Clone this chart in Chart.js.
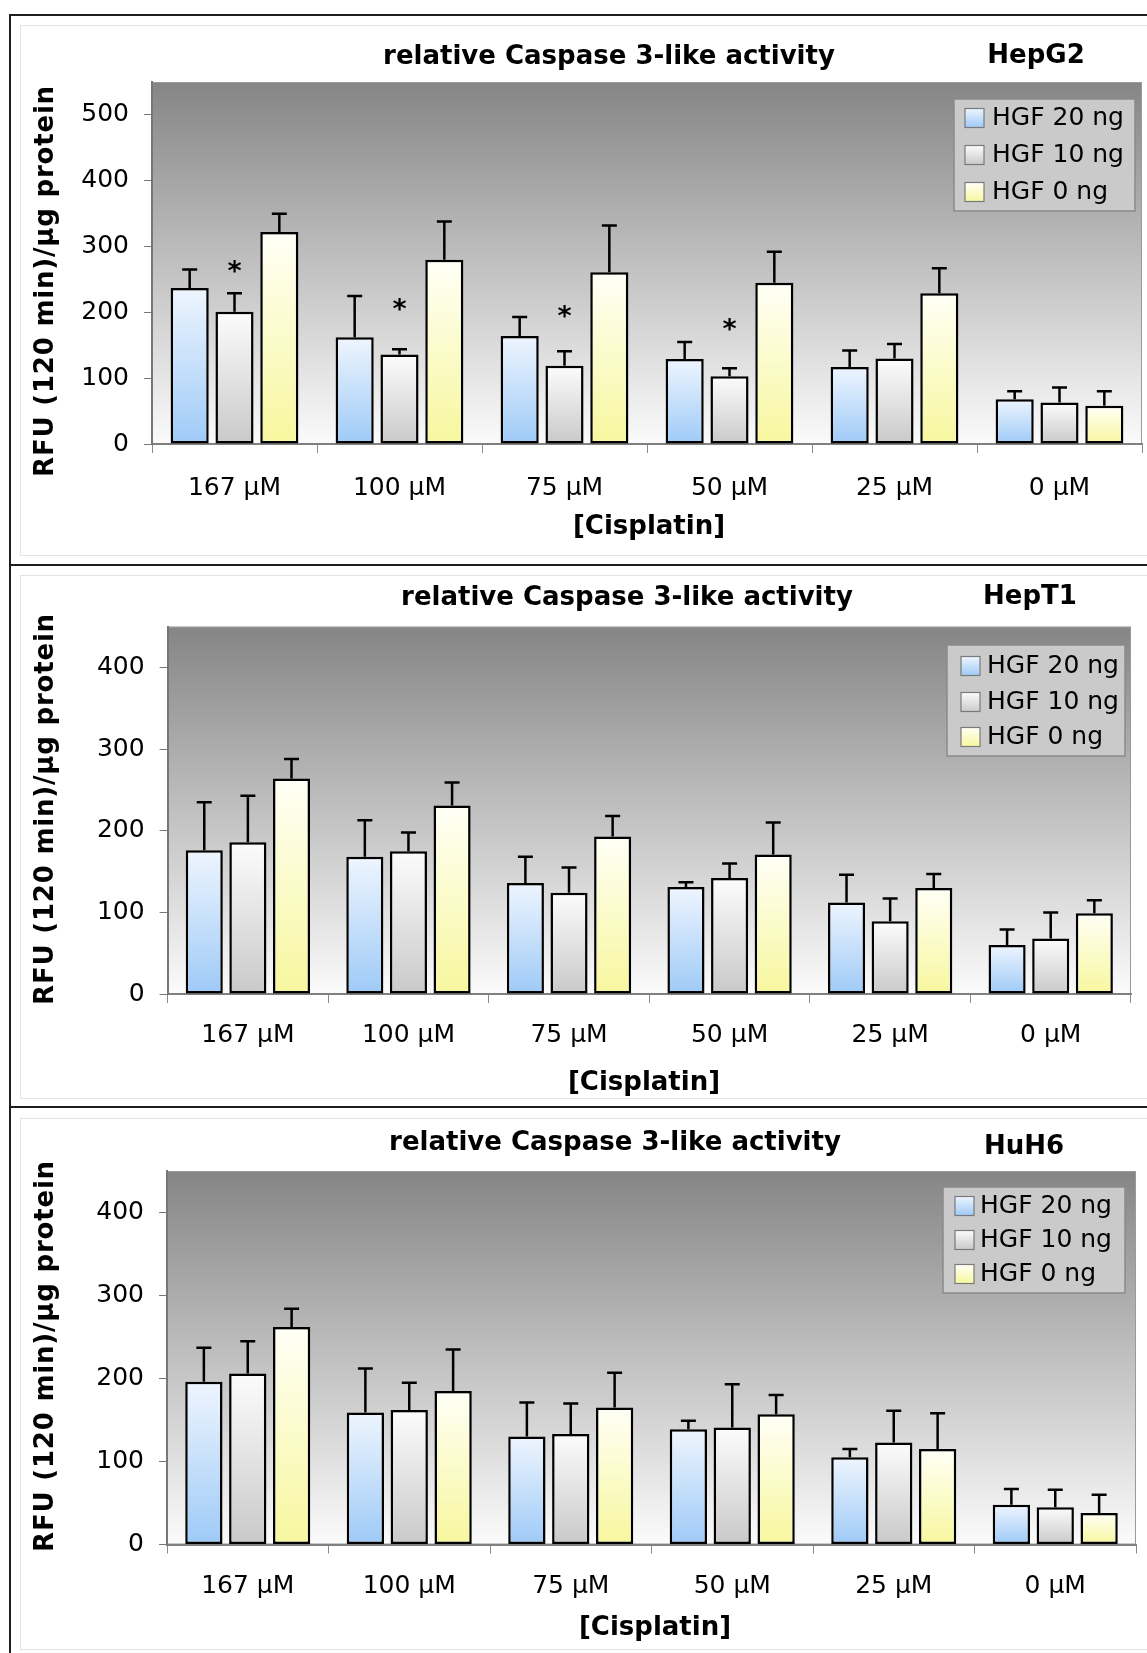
<!DOCTYPE html>
<html>
<head>
<meta charset="utf-8">
<script src="https://cdn.jsdelivr.net/npm/chart.js@4.4.1/dist/chart.umd.min.js"></script>
<style>
body { margin: 0; background: #fff; }
#page { position: relative; width: 1147px; height: 1653px; overflow: hidden; background: #fff; }
.rule { position: absolute; background: #1e1e1e; }
.frame { position: absolute; border: 1px solid #e4e4e4; box-sizing: border-box; }
canvas { position: absolute; left: 20px; }
</style>
</head>
<body>
<div id="page">
  <div class="rule" style="left:9px;top:14px;width:1138px;height:2px"></div>
  <div class="rule" style="left:9px;top:564px;width:1138px;height:2px"></div>
  <div class="rule" style="left:9px;top:1106px;width:1138px;height:2px"></div>
  <div class="rule" style="left:9px;top:14px;width:2px;height:1639px"></div>
  <div class="frame" style="left:20px;top:25px;width:1140px;height:531px"></div>
  <div class="frame" style="left:20px;top:575px;width:1140px;height:524px"></div>
  <div class="frame" style="left:20px;top:1118px;width:1140px;height:532px"></div>
  <canvas id="c1" width="1127" height="530" style="top:25px"></canvas>
  <canvas id="c2" width="1127" height="523" style="top:575px"></canvas>
  <canvas id="c3" width="1127" height="535" style="top:1118px"></canvas>
</div>
<script>
// data
const categories = ['167 µM', '100 µM', '75 µM', '50 µM', '25 µM', '0 µM'];
const seriesLabels = ['HGF 20 ng', 'HGF 10 ng', 'HGF 0 ng'];

const hepg2Hgf20 = [237, 162, 164, 129, 117, 68];
const hepg2Hgf20Err = [28, 63, 29, 26, 25, 12];
const hepg2Hgf10 = [201, 136, 119, 103, 130, 63];
const hepg2Hgf10Err = [28, 8, 22, 12, 22, 23];
const hepg2Hgf0 = [322, 280, 261, 245, 229, 58];
const hepg2Hgf0Err = [28, 58, 71, 47, 38, 22];
const hepg2Stars = [268, 210, 199, 179, null, null];
const hepg2Ticks = [0, 100, 200, 300, 400, 500];

const hept1Hgf20 = [176, 168, 136, 131, 112, 60];
const hept1Hgf20Err = [59, 45, 32, 6, 34, 19];
const hept1Hgf10 = [186, 175, 124, 142, 89, 68];
const hept1Hgf10Err = [57, 23, 31, 18, 28, 32];
const hept1Hgf0 = [264, 231, 193, 171, 130, 99];
const hept1Hgf0Err = [24, 28, 25, 39, 17, 16];
const hept1Ticks = [0, 100, 200, 300, 400];

const huh6Hgf20 = [196, 159, 130, 139, 105, 48];
const huh6Hgf20Err = [41, 53, 41, 10, 10, 19];
const huh6Hgf10 = [206, 162, 133, 141, 123, 45];
const huh6Hgf10Err = [39, 33, 37, 52, 38, 21];
const huh6Hgf0 = [262, 185, 165, 157, 115, 38];
const huh6Hgf0Err = [22, 50, 42, 23, 43, 22];
const huh6Ticks = [0, 100, 200, 300, 400];

const fills = [['#eef5fe', '#9ecaf7'], ['#fcfcfc', '#c9c9c9'], ['#fffff7', '#f7f79e']];
const FONT = '"DejaVu Sans", Verdana, sans-serif';

function barFill(pair) {
    return function (ctx) {
        const chart = ctx.chart;
        const y = chart.scales.y;
        if (ctx.type !== 'data' || !y) return pair[1];
        const top = y.getPixelForValue(ctx.raw);
        const base = y.getPixelForValue(0);
        if (!isFinite(top) || !isFinite(base) || top === base) return pair[1];
        const g = chart.ctx.createLinearGradient(0, top, 0, base);
        g.addColorStop(0, pair[0]);
        g.addColorStop(1, pair[1]);
        return g;
    };
}

function text(c, s, x, y, font, align) {
    c.font = font;
    c.textAlign = align || 'center';
    c.textBaseline = 'middle';
    c.fillStyle = '#000';
    c.fillText(s, x, y);
}

const panelDecor = {
    id: 'panelDecor',
    beforeDraw(chart) {
        const a = chart.chartArea, c = chart.ctx;
        const g = c.createLinearGradient(0, a.top, 0, a.bottom);
        g.addColorStop(0, '#858585');
        g.addColorStop(1, '#fbfbfb');
        c.save();
        c.fillStyle = g;
        c.fillRect(a.left, a.top, a.right - a.left, a.bottom - a.top);
        c.strokeStyle = '#9a9a9a';
        c.lineWidth = 1;
        c.strokeRect(a.left + 0.5, a.top + 0.5, a.right - a.left - 1, a.bottom - a.top - 1);
        c.restore();
    },
    afterDatasetsDraw(chart) {
        const c = chart.ctx, y = chart.scales.y;
        const p = chart.options.plugins.panelDecor;
        c.save();
        c.strokeStyle = '#000';
        c.lineWidth = 2.5;
        chart.data.datasets.forEach(function (ds, i) {
            chart.getDatasetMeta(i).data.forEach(function (bar, j) {
                const yTop = y.getPixelForValue(ds.data[j] + ds.errors[j]);
                c.beginPath();
                c.moveTo(bar.x, bar.y);
                c.lineTo(bar.x, yTop);
                c.moveTo(bar.x - 7.5, yTop);
                c.lineTo(bar.x + 7.5, yTop);
                c.stroke();
            });
        });
        if (p.stars) {
            chart.getDatasetMeta(1).data.forEach(function (bar, j) {
                if (p.stars[j] == null) return;
                text(c, '*', bar.x, y.getPixelForValue(p.stars[j]) + 5, 'bold 27px ' + FONT);
            });
        }
        c.restore();
    },
    afterDraw(chart) {
        const c = chart.ctx;
        const p = chart.options.plugins.panelDecor;
        const ox = 20, oy = p.top;
        c.save();
        text(c, 'relative Caspase 3-like activity', p.title[0] - ox, p.title[1] - oy, 'bold 26px ' + FONT);
        text(c, p.name, p.cell[0] - ox, p.cell[1] - oy, 'bold 26px ' + FONT);
        text(c, '[Cisplatin]', p.xTitle[0] - ox, p.xTitle[1] - oy, 'bold 26px ' + FONT);
        c.save();
        c.translate(p.yTitle[0] - ox, p.yTitle[1] - oy);
        c.rotate(-Math.PI / 2);
        c.letterSpacing = '0.8px';
        text(c, 'RFU (120 min)/µg protein', 0, 0, 'bold 26px ' + FONT);
        c.restore();

        // legend box
        const L = p.legend;
        c.fillStyle = '#cacaca';
        c.fillRect(L.x - ox, L.y - oy, L.w, L.h);
        c.strokeStyle = '#8a8a8a';
        c.lineWidth = 1.5;
        c.strokeRect(L.x - ox, L.y - oy, L.w, L.h);
        chart.data.datasets.forEach(function (ds, i) {
            const ry = L.rows[i] - oy;
            const sx = L.sx - ox;
            const g = c.createLinearGradient(0, ry - 9.5, 0, ry + 9.5);
            g.addColorStop(0, fills[i][0]);
            g.addColorStop(1, fills[i][1]);
            c.fillStyle = g;
            c.fillRect(sx, ry - 9.5, 19, 19);
            c.strokeStyle = '#7a7a7a';
            c.lineWidth = 1.2;
            c.strokeRect(sx, ry - 9.5, 19, 19);
            text(c, ds.label, L.tx - ox, ry, '25px ' + FONT, 'left');
        });
        c.restore();
    }
};

const panels = [
    {
        id: 'c1', top: 25, height: 530, name: 'HepG2', yMax: 550, ticks: hepg2Ticks,
        values: [hepg2Hgf20, hepg2Hgf10, hepg2Hgf0], errors: [hepg2Hgf20Err, hepg2Hgf10Err, hepg2Hgf0Err],
        stars: hepg2Stars,
        area: { left: 152, right: 1142, top: 82, bottom: 444 }, labelPad: 20,
        title: [609, 57], cell: [1036, 56], yTitle: [46, 281], xTitle: [649, 527],
        legend: { x: 954, y: 99, w: 181, h: 112, rows: [118, 155, 192], sx: 965, tx: 992 }
    },
    {
        id: 'c2', top: 575, height: 523, name: 'HepT1', yMax: 450, ticks: hept1Ticks,
        values: [hept1Hgf20, hept1Hgf10, hept1Hgf0], errors: [hept1Hgf20Err, hept1Hgf10Err, hept1Hgf0Err],
        stars: null,
        area: { left: 167.6, right: 1131, top: 626.7, bottom: 994 }, labelPad: 17,
        title: [627, 598], cell: [1030, 597], yTitle: [46, 809], xTitle: [644, 1083],
        legend: { x: 947, y: 645, w: 178, h: 111, rows: [666, 702, 737], sx: 961, tx: 987 }
    },
    {
        id: 'c3', top: 1118, height: 535, name: 'HuH6', yMax: 450, ticks: huh6Ticks,
        values: [huh6Hgf20, huh6Hgf10, huh6Hgf0], errors: [huh6Hgf20Err, huh6Hgf10Err, huh6Hgf0Err],
        stars: null,
        area: { left: 167, right: 1136, top: 1171, bottom: 1544.5 }, labelPad: 17.5,
        title: [615, 1143], cell: [1024, 1147], yTitle: [46, 1356], xTitle: [655, 1628],
        legend: { x: 943, y: 1187, w: 182, h: 106, rows: [1206, 1240, 1274], sx: 955, tx: 980 }
    }
];

panels.forEach(function (p) {
    const canvas = document.getElementById(p.id);
    const left = p.area.left - 20;
    const right = 1127 - (p.area.right - 20);
    const top = p.area.top - p.top;
    const xHeight = p.height - (p.area.bottom - p.top);
    new Chart(canvas.getContext('2d'), {
        type: 'bar',
        data: {
            labels: categories,
            datasets: seriesLabels.map(function (label, i) {
                return {
                    label: label,
                    data: p.values[i],
                    errors: p.errors[i],
                    backgroundColor: barFill(fills[i]),
                    borderColor: '#000',
                    borderWidth: 2.5,
                    borderSkipped: false,
                    categoryPercentage: 0.815,
                    barPercentage: 0.85
                };
            })
        },
        options: {
            responsive: false,
            devicePixelRatio: 1,
            animation: false,
            events: [],
            layout: { padding: { left: 0, right: right, top: top, bottom: 0 } },
            scales: {
                x: {
                    offset: true,
                    grid: { offset: true, drawOnChartArea: false, drawTicks: true, tickLength: 9, color: '#8a8a8a', lineWidth: 1 },
                    border: { color: '#808080', width: 2 },
                    ticks: { color: '#000', padding: p.labelPad, font: { family: FONT, size: 25, lineHeight: 1.2 } },
                    afterFit: function (s) { s.height = xHeight; }
                },
                y: {
                    min: 0,
                    max: p.yMax,
                    grid: { drawOnChartArea: false, drawTicks: true, tickLength: 8, color: '#777', lineWidth: 1 },
                    border: { color: '#777', width: 2 },
                    ticks: { color: '#000', padding: 15, font: { family: FONT, size: 25 } },
                    afterBuildTicks: function (s) { s.ticks = p.ticks.map(function (v) { return { value: v }; }); },
                    afterFit: function (s) { s.width = left; }
                }
            },
            plugins: {
                legend: { display: false },
                title: { display: false },
                tooltip: { enabled: false },
                panelDecor: p
            }
        },
        plugins: [panelDecor]
    });
});
</script>
</body>
</html>
